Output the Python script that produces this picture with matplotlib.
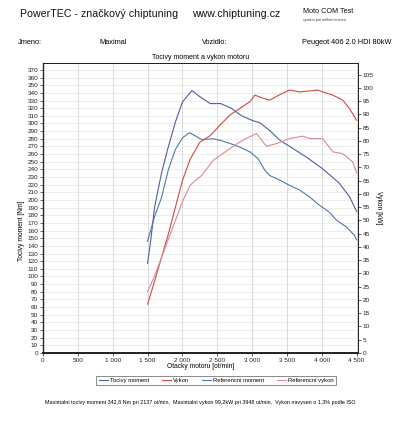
import matplotlib
matplotlib.use("Agg")
import matplotlib.pyplot as plt
from matplotlib.ticker import FixedLocator, FuncFormatter

plt.rcParams['font.family'] = ['Liberation Sans', 'DejaVu Sans']

# Tuned torque (Tocivy moment)
rpm_t = [1500, 1550, 1600, 1700, 1800, 1900, 2000, 2137, 2250, 2400, 2550, 2700, 2850, 3000, 3110,
         3250, 3400, 3540, 3780, 4010, 4250, 4400, 4500]
nm_t = [117, 150, 190, 235, 270, 302, 328, 343, 335, 326, 326, 320, 310, 304, 301,
        291, 278, 270, 256, 241, 222, 204, 185]

# Tuned power (Vykon)
rpm_p = [1500, 1600, 1700, 1800, 1900, 2000, 2110, 2250, 2400, 2540, 2680, 2825, 2968, 3040, 3150,
         3253, 3400, 3539, 3682, 3871, 3948, 4014, 4157, 4300, 4396, 4500]
kw_p = [18.4, 27, 36, 45, 55, 65, 73, 79.5, 82, 86, 89.7, 92.3, 94.8, 97.3, 96.2,
        95.4, 97.5, 99.2, 98.5, 99.0, 99.2, 98.5, 97.3, 95.4, 92.3, 87.8]

# Reference torque (Referencni moment)
rpm_rt = [1500, 1550, 1600, 1700, 1800, 1900, 2000, 2100, 2200, 2280, 2440, 2540, 2680, 2825, 2968,
          3086, 3182, 3253, 3396, 3539, 3682, 3825, 3968, 4110, 4206, 4349, 4467, 4500]
nm_rt = [146, 162, 178, 203, 240, 266, 281, 288, 283, 279, 280, 278, 274, 269, 263,
         254, 239, 232, 226, 219, 213, 204, 193, 184, 174, 165, 154, 148]

# Reference power (Referencni vykon)
rpm_rp = [1500, 1600, 1700, 1800, 1900, 2000, 2110, 2277, 2443, 2682, 2825, 2920, 3063, 3206, 3349,
          3539, 3729, 3825, 4014, 4157, 4300, 4443, 4500]
kw_rp = [23, 29, 36, 43, 50, 57, 63.3, 67, 72.7, 77.1, 79.6, 81, 82.8, 78, 79,
         80.9, 81.8, 80.9, 80.9, 75.9, 75.2, 72.1, 68]

x_ticks = [0, 500, 1000, 1500, 2000, 2500, 3000, 3500, 4000, 4500]
y_ticks_left = list(range(0, 371, 10))
y_ticks_right = list(range(0, 106, 5))

c_t = '#4f5f9c'
c_p = '#cf4a45'
c_rt = '#4d7aa6'
c_rp = '#d98a96'

fig = plt.figure(figsize=(4.0, 4.23), dpi=100)
fig.patch.set_facecolor('white')
ax = fig.add_axes([0.1075, 0.1655, 0.7875, 0.6855])
ax2 = ax.twinx()

ax.set_xlim(0, 4520)
ax.set_ylim(0, 379)
ax2.set_ylim(0, 109.4)

for x in x_ticks[1:]:
    ax.axvline(x, color='#d4d4d4', lw=0.6, zorder=0)
for y in y_ticks_left[1:]:
    ax.axhline(y, color='#e6e6e6', lw=0.5, zorder=0)

l1, = ax.plot(rpm_t, nm_t, color=c_t, lw=0.8, label='Tocivy moment')
l3, = ax.plot(rpm_rt, nm_rt, color=c_rt, lw=0.8, label='Referencni moment')
l2, = ax2.plot(rpm_p, kw_p, color=c_p, lw=0.8, label='Vykon')
l4, = ax2.plot(rpm_rp, kw_rp, color=c_rp, lw=0.8, label='Referencni vykon')

ax.xaxis.set_major_locator(FixedLocator(x_ticks))
ax.xaxis.set_major_formatter(FuncFormatter(lambda v, p: (f"{int(v)//1000} {int(v)%1000:03d}" if v >= 1000 else f"{int(v)}")))
ax.yaxis.set_major_locator(FixedLocator(y_ticks_left))
ax2.yaxis.set_major_locator(FixedLocator(y_ticks_right))

ax.tick_params(axis='both', labelsize=4.6, length=2, width=0.5, pad=1.5, colors='#222222')
ax2.tick_params(axis='y', labelsize=4.6, length=2, width=0.5, pad=1.5, colors='#222222')

for a in (ax, ax2):
    for s in a.spines.values():
        s.set_linewidth(0.7)
        s.set_color('#222222')
ax.spines['bottom'].set_linewidth(1.4)
ax.spines['left'].set_linewidth(1.0)

ax.set_xlabel('Otacky motoru [ot/min]', fontsize=4.8, labelpad=0)
ax.set_ylabel('Tocivy moment [Nm]', fontsize=4.8, labelpad=0)
ax.yaxis.set_label_coords(-0.058, 0.42)
ax2.set_ylabel('Vykon [kW]', fontsize=4.8, rotation=270, labelpad=6)
ax2.yaxis.set_label_coords(1.075, 0.5)

ax.set_title('Tocivy moment a vykon motoru', fontsize=5, pad=3)

fig.text(0.05, 0.967, 'PowerTEC - značkový chiptuning', fontsize=7.7, va='center', ha='left', color='#111111')
fig.text(0.48, 0.967, 'www.chiptuning.cz', fontsize=7.7, va='center', ha='left', color='#111111')
fig.text(0.757, 0.972, 'Moto COM Test', fontsize=5.2, va='center', ha='left', color='#111111')
fig.text(0.757, 0.952, 'systém pro měření motorů', fontsize=2.6, va='center', ha='left', color='#333333')

fig.text(0.045, 0.899, 'Jmeno:', fontsize=5.3, va='center', ha='left')
fig.text(0.248, 0.899, 'Maximal', fontsize=5.3, va='center', ha='left')
fig.text(0.505, 0.899, 'Vozidlo:', fontsize=5.3, va='center', ha='left')
fig.text(0.755, 0.899, 'Peugeot 406 2.0 HDI 80kW', fontsize=5.3, va='center', ha='left')

leg = fig.legend([l1, l2, l3, l4], ['Tocivy moment', 'Vykon', 'Referencni moment', 'Referencni vykon'],
                 loc='center', bbox_to_anchor=(0.54, 0.1), ncol=4, fontsize=4.2, frameon=True,
                 fancybox=False, edgecolor='#333333', handlelength=1.6, handletextpad=0.3,
                 columnspacing=2.2, borderpad=0.35)
leg.get_frame().set_linewidth(0.5)

fig.text(0.5, 0.049, 'Maximalni tocivy moment 342,8 Nm pri 2137 ot/min,  Maximalni vykon 99,2kW pri 3948 ot/min,  Vykon navysen o 1,3% podle ISO',
         fontsize=3.9, ha='center', va='center')

fig.savefig('out.png', dpi=100, facecolor='white')
